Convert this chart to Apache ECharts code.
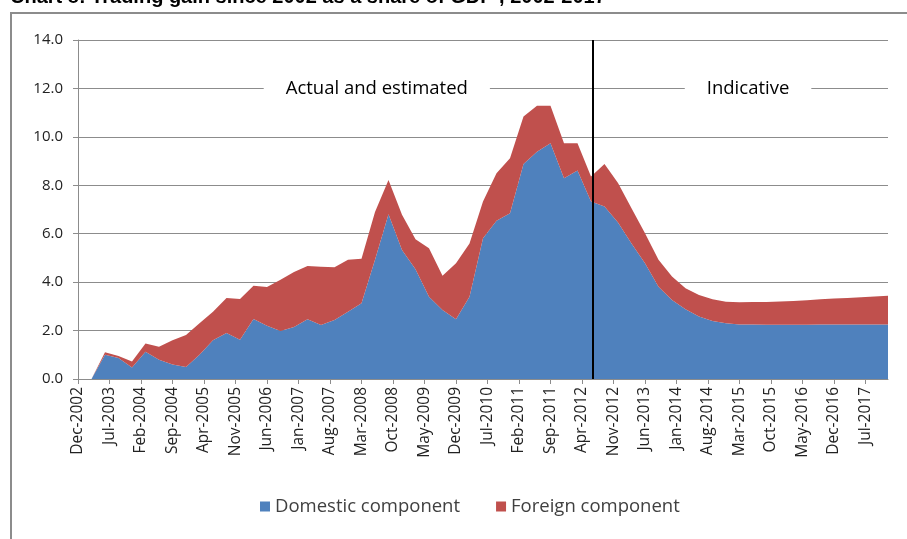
<!DOCTYPE html>
<html>
<head>
<meta charset="utf-8">
<script src="https://cdn.jsdelivr.net/npm/echarts@6/dist/echarts.min.js"></script>
<style>
  html, body { margin: 0; padding: 0; background: #fff; }
  #main { width: 907px; height: 539px; }
</style>
</head>
<body>
<div id="main"></div>
<script>
// quarterly observations, Dec-2002 .. Dec-2017
var quarters = [
    'Dec-2002',
    'Mar-2003', 'Jun-2003', 'Sep-2003', 'Dec-2003',
    'Mar-2004', 'Jun-2004', 'Sep-2004', 'Dec-2004',
    'Mar-2005', 'Jun-2005', 'Sep-2005', 'Dec-2005',
    'Mar-2006', 'Jun-2006', 'Sep-2006', 'Dec-2006',
    'Mar-2007', 'Jun-2007', 'Sep-2007', 'Dec-2007',
    'Mar-2008', 'Jun-2008', 'Sep-2008', 'Dec-2008',
    'Mar-2009', 'Jun-2009', 'Sep-2009', 'Dec-2009',
    'Mar-2010', 'Jun-2010', 'Sep-2010', 'Dec-2010',
    'Mar-2011', 'Jun-2011', 'Sep-2011', 'Dec-2011',
    'Mar-2012', 'Jun-2012', 'Sep-2012', 'Dec-2012',
    'Mar-2013', 'Jun-2013', 'Sep-2013', 'Dec-2013',
    'Mar-2014', 'Jun-2014', 'Sep-2014', 'Dec-2014',
    'Mar-2015', 'Jun-2015', 'Sep-2015', 'Dec-2015',
    'Mar-2016', 'Jun-2016', 'Sep-2016', 'Dec-2016',
    'Mar-2017', 'Jun-2017', 'Sep-2017', 'Dec-2017'
];

var domestic = [
    0, 0, 1.0, 0.87, 0.48, 1.13, 0.8, 0.6, 0.5, 1.0,
    1.6, 1.9, 1.62, 2.48, 2.2, 1.98, 2.15, 2.47, 2.23, 2.44,
    2.78, 3.13, 4.92, 6.8, 5.33, 4.53, 3.4, 2.85, 2.47, 3.4,
    5.81, 6.54, 6.84, 8.88, 9.39, 9.74, 8.29, 8.61, 7.33, 7.12,
    6.46, 5.6, 4.78, 3.81, 3.26, 2.88, 2.58, 2.4, 2.3, 2.25,
    2.25, 2.24, 2.24, 2.24, 2.24, 2.25, 2.25, 2.25, 2.25, 2.25, 2.25
];

var foreign = [
    0, 0, 0.1, 0.08, 0.24, 0.34, 0.53, 1.0, 1.32, 1.3,
    1.18, 1.45, 1.68, 1.37, 1.6, 2.12, 2.27, 2.2, 2.41, 2.17,
    2.14, 1.84, 1.98, 1.42, 1.45, 1.24, 2.0, 1.41, 2.31, 2.2,
    1.52, 1.96, 2.28, 1.96, 1.89, 1.54, 1.45, 1.13, 1.03, 1.76,
    1.63, 1.45, 1.24, 1.11, 0.97, 0.87, 0.89, 0.89, 0.89, 0.92,
    0.93, 0.94, 0.96, 0.98, 1.01, 1.04, 1.07, 1.10, 1.13, 1.16, 1.19
];

// axis labels every 7 months from Dec-2002
var tickLabels = [
    'Dec-2002', 'Jul-2003', 'Feb-2004', 'Sep-2004', 'Apr-2005', 'Nov-2005',
    'Jun-2006', 'Jan-2007', 'Aug-2007', 'Mar-2008', 'Oct-2008', 'May-2009',
    'Dec-2009', 'Jul-2010', 'Feb-2011', 'Sep-2011', 'Apr-2012', 'Nov-2012',
    'Jun-2013', 'Jan-2014', 'Aug-2014', 'Mar-2015', 'Oct-2015', 'May-2016',
    'Dec-2016', 'Jul-2017'
];
var tickStep = 7;      // months between labels
var monthSpan = 180;   // Dec-2002 .. Dec-2017
var splitMonth = 114.3; // actual / indicative boundary (Jun-2012)

var tickMonths = tickLabels.map(function (l, i) { return i * tickStep; });

var txtFont = '"Open Sans", "Noto Sans", sans-serif';
var grey = '#8c8c8c';

var chart = echarts.init(document.getElementById('main'), null, { renderer: 'canvas' });

var option = {
    animation: false,
    backgroundColor: '#fff',
    textStyle: { fontFamily: txtFont },
    graphic: [
        {
            type: 'rect',
            shape: { x: 11, y: 13, width: 1000, height: 1000 },
            style: { fill: 'none', stroke: grey, lineWidth: 2 },
            silent: true
        },
        {
            type: 'text',
            left: 10,
            top: -13,
            style: {
                text: 'Chart 8: Trading gain since 2002 as a share of GDP , 2002-2017',
                font: 'bold 20px "Liberation Sans", Arial, sans-serif',
                fill: '#000'
            },
            silent: true
        }
    ],
    grid: { left: 78, right: 19, top: 40, bottom: 160 },
    legend: {
        data: ['Domestic component', 'Foreign component'],
        bottom: 18,
        left: 255,
        icon: 'rect',
        itemWidth: 10,
        itemHeight: 10,
        itemGap: 36,
        textStyle: { fontSize: 18.5, color: '#404040', fontFamily: txtFont }
    },
    xAxis: [
        {
            type: 'category',
            data: quarters,
            boundaryGap: false,
            show: false
        },
        {
            type: 'value',
            position: 'bottom',
            min: 0,
            max: monthSpan,
            axisLine: { show: true, lineStyle: { color: grey, width: 1 } },
            axisTick: { show: true, length: 5, inside: false, customValues: tickMonths,
                lineStyle: { color: grey } },
            axisLabel: {
                customValues: tickMonths,
                rotate: 90,
                margin: 8,
                fontSize: 15.5,
                color: '#222',
                fontFamily: txtFont,
                formatter: function (v) { return tickLabels[Math.round(v / tickStep)] || ''; }
            },
            splitLine: { show: false }
        }
    ],
    yAxis: {
        type: 'value',
        min: 0,
        max: 14,
        interval: 2,
        axisLine: { show: true, lineStyle: { color: grey } },
        axisTick: { show: true, length: 5, lineStyle: { color: grey } },
        axisLabel: {
            margin: 15,
            fontSize: 15,
            color: '#222',
            fontFamily: txtFont,
            formatter: function (v) { return v.toFixed(1); }
        },
        splitLine: { show: true, lineStyle: { color: grey, width: 1 } }
    },
    series: [
        {
            name: 'Domestic component',
            type: 'line',
            stack: 'gain',
            xAxisIndex: 0,
            data: domestic,
            symbol: 'none',
            lineStyle: { width: 0 },
            areaStyle: { color: '#4F81BD', opacity: 1 },
            itemStyle: { color: '#4F81BD' },
            z: 2
        },
        {
            name: 'Foreign component',
            type: 'line',
            stack: 'gain',
            xAxisIndex: 0,
            data: foreign,
            symbol: 'none',
            lineStyle: { width: 0 },
            areaStyle: { color: '#C0504D', opacity: 1 },
            itemStyle: { color: '#C0504D' },
            z: 2
        },
        {
            name: 'annotations',
            type: 'line',
            xAxisIndex: 1,
            data: [],
            z: 5,
            markLine: {
                silent: true,
                symbol: 'none',
                label: { show: false },
                lineStyle: { color: '#000', width: 2, type: 'solid' },
                data: [{ xAxis: splitMonth }]
            },
            markPoint: {
                silent: true,
                symbol: 'rect',
                symbolSize: 0,
                label: {
                    show: true,
                    position: 'inside',
                    fontSize: 18.5,
                    color: '#000',
                    fontFamily: txtFont,
                    backgroundColor: '#fff',
                    padding: [4, 22]
                },
                data: [
                    { coord: [66.4, 12], value: 'Actual and estimated',
                      label: { formatter: 'Actual and estimated' } },
                    { coord: [148.9, 12], value: 'Indicative',
                      label: { formatter: 'Indicative' } }
                ]
            }
        }
    ]
};

chart.setOption(option);
</script>
</body>
</html>
